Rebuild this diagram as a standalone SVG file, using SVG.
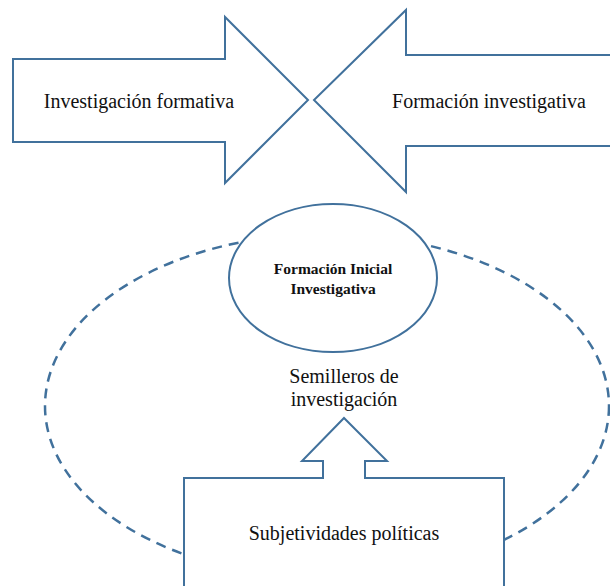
<svg xmlns="http://www.w3.org/2000/svg" width="610" height="586" viewBox="0 0 610 586">
<style>
.sh{fill:#fff;stroke:#41719C;stroke-width:2;stroke-linejoin:miter}
.t{font-family:"Liberation Serif","Times New Roman",serif;font-size:20px;fill:#111;text-anchor:middle}
.b{font-weight:bold;font-size:15.5px}
</style>
<rect width="610" height="586" fill="#fff"/>
<g id="connectors">
<ellipse cx="327" cy="406" rx="282" ry="172" fill="none" stroke="#41719C" stroke-width="2.5" stroke-dasharray="10 7"/>
</g>
<g id="investigacion-formativa">
<path class="sh" d="M13,59 H225 V17 L308,100 L225,183 V142 H13 Z"/>
<text class="t" x="139" y="108">Investigación formativa</text>
</g>
<g id="formacion-investigativa">
<path class="sh" d="M620,55 H406 V10 L314,100 L406,192 V146 H620"/>
<text class="t" x="489" y="108">Formación investigativa</text>
</g>
<g id="formacion-inicial">
<ellipse class="sh" cx="333" cy="278" rx="104" ry="74"/>
<text class="t b" x="333" y="274">Formación Inicial</text>
<text class="t b" x="333" y="294">Investigativa</text>
</g>
<g id="semilleros">
<text class="t" x="344" y="383">Semilleros de</text>
<text class="t" x="344" y="406">investigación</text>
</g>
<g id="subjetividades">
<path class="sh" d="M184,600 V478 H323 V461 H302 L344,418 L387,461 H365 V478 H504 V600"/>
<text class="t" x="344" y="540">Subjetividades políticas</text>
</g>
</svg>
